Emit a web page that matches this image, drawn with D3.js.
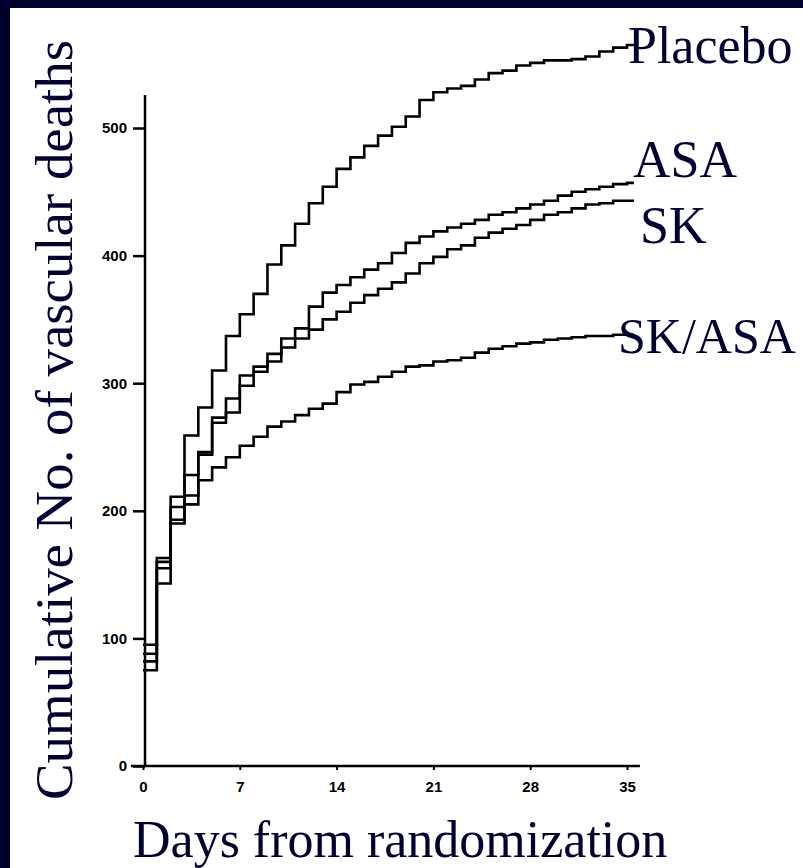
<!DOCTYPE html>
<html>
<head>
<meta charset="utf-8">
<script src="https://cdn.jsdelivr.net/npm/d3@7"></script>
<style>
  html, body { margin: 0; padding: 0; background: #00002b; }
  svg { display: block; }
</style>
</head>
<body>
<script>
// ---- data ----
const days = [0,1,2,3,4,5,6,7,8,9,10,11,12,13,14,15,16,17,18,19,20,21,22,23,24,25,26,27,28,29,30,31,32,33,34,35];
const placebo = [88,160,211,259,281,310,337,354,370,393,408,425,441,454,468,477,486,494,501,509,522,528,531,533,538,543,545,549,551,553,553,554,556,560,563,565];
const asa     = [82,155,203,228,246,273,288,306,313,323,335,343,360,371,377,383,389,394,402,410,415,419,422,425,428,432,434,437,440,443,447,450,452,454,456,457];
const sk      = [95,163,193,212,244,269,277,298,309,317,328,335,342,350,356,363,369,374,379,386,394,399,405,408,414,418,421,424,428,432,434,437,440,441,443,443];
const skasa   = [75,143,190,205,224,234,242,251,258,266,270,275,280,284,293,299,301,305,309,313,314,317,318,320,324,327,329,331,332,334,335,336,337,337,338,338];
const seriesNames = ["Placebo", "ASA", "SK", "SK/ASA"];
const xTicks = [0, 7, 14, 21, 28, 35];
const yTicks = [0, 100, 200, 300, 400, 500];
const endDay = 35.5;

const W = 803, H = 868;
const svg = d3.select("body").append("svg").attr("width", W).attr("height", H);

// frame
svg.append("rect").attr("x", 0).attr("y", 0).attr("width", W).attr("height", H).attr("fill", "#00002b");
svg.append("rect").attr("x", 10).attr("y", 8).attr("width", W - 10).attr("height", H - 8).attr("fill", "#ffffff");

const x = d3.scaleLinear().domain([0, 35]).range([143, 627]);
const y = d3.scaleLinear().domain([0, 500]).range([766, 128]);

const tickFont = "'Liberation Sans Narrow', 'Liberation Sans', Arial, sans-serif";
const serif = "'Liberation Serif', 'Times New Roman', serif";
const ink = "#000033";

// y axis
const gy = svg.append("g").attr("transform", `translate(${x(0) + 2},0)`)
  .call(d3.axisLeft(y).tickValues(yTicks).tickSize(12).tickPadding(6).tickFormat(d3.format("d")));
gy.select(".domain").remove();
gy.selectAll(".tick line").attr("stroke", "#000").attr("stroke-width", 2.5);
gy.selectAll(".tick text").attr("font-family", tickFont).attr("font-weight", "bold")
  .attr("font-size", 15).attr("fill", "#000");
svg.append("line").attr("x1", x(0) + 2).attr("x2", x(0) + 2)
  .attr("y1", y(0)).attr("y2", y(500) - 33)
  .attr("stroke", "#000").attr("stroke-width", 2.5);

// x axis
const gx = svg.append("g").attr("transform", `translate(0,${y(0)})`)
  .call(d3.axisBottom(x).tickValues(xTicks).tickSize(4).tickPadding(11).tickFormat(d3.format("d")));
gx.select(".domain").remove();
gx.selectAll(".tick line").attr("stroke", "#000").attr("stroke-width", 2);
gx.selectAll(".tick text").attr("font-family", tickFont).attr("font-weight", "bold")
  .attr("font-size", 15).attr("fill", "#000");
svg.append("line").attr("x1", x(0) - 12).attr("x2", x(endDay) + 6)
  .attr("y1", y(0)).attr("y2", y(0))
  .attr("stroke", "#000").attr("stroke-width", 2.5);

// curves
const allSeries = [placebo, asa, sk, skasa];
const line = d3.line().x(d => x(d[0])).y(d => y(d[1])).curve(d3.curveStepAfter);
allSeries.forEach(vals => {
  const pts = days.map((d, i) => [d, vals[i]]);
  pts.push([endDay, vals[vals.length - 1]]);
  svg.append("path").attr("d", line(pts)).attr("fill", "none")
    .attr("stroke", "#000").attr("stroke-width", 2.6);
});

// series labels
const labelPos = [
  { x: 628, y: 63, size: 52 },
  { x: 633, y: 177, size: 52 },
  { x: 640, y: 243, size: 52 },
  { x: 618, y: 353, size: 50 }
];
seriesNames.forEach((n, i) => {
  svg.append("text").attr("x", labelPos[i].x).attr("y", labelPos[i].y)
    .attr("font-family", serif).attr("font-size", labelPos[i].size).attr("fill", ink).text(n);
});

// axis titles
svg.append("text").attr("x", 133).attr("y", 857)
  .attr("font-family", serif).attr("font-size", 52).attr("fill", ink)
  .text("Days from randomization");
svg.append("text").attr("transform", "translate(72,800) rotate(-90)")
  .attr("font-family", serif).attr("font-size", 52).attr("fill", ink)
  .attr("textLength", 760).attr("lengthAdjust", "spacingAndGlyphs")
  .text("Cumulative  No. of vascular deaths");
</script>
</body>
</html>
